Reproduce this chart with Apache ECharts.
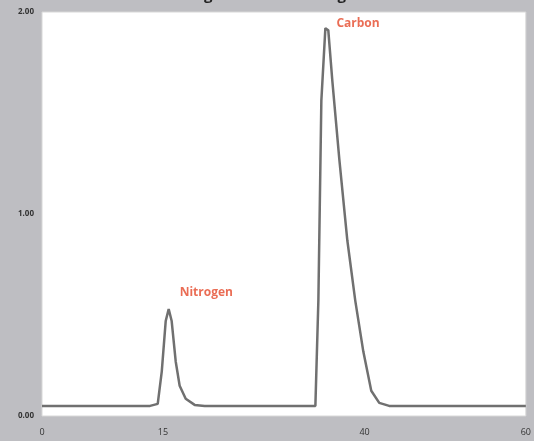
<!DOCTYPE html>
<html><head><meta charset="utf-8">
<script src="https://cdn.jsdelivr.net/npm/echarts@6/dist/echarts.min.js"></script>
<style>html,body{margin:0;padding:0;background:#bebec2;}#c{width:534px;height:441px;}</style>
</head><body><div id="c"></div>
<script>
// retention time (x) and detector signal (y)
const times = [0, 7.2, 13.4, 14.35, 14.85, 15.34, 15.71, 16.08, 16.58, 17.07, 17.82, 18.93, 20.17, 31.9, 33.9, 34.27, 34.64, 35.14, 35.5, 36.0, 36.87, 37.86, 38.85, 39.84, 40.83, 41.82, 43.05, 60];
const signal = [0.05, 0.05, 0.05, 0.06, 0.22, 0.47, 0.53, 0.47, 0.27, 0.15, 0.085, 0.055, 0.05, 0.05, 0.05, 0.57, 1.56, 1.92, 1.91, 1.66, 1.27, 0.87, 0.57, 0.32, 0.125, 0.065, 0.05, 0.05];
const peakNames = ['Nitrogen', 'Carbon'];
const peakIndex = [6, 17];
const xTicks = [0, 15, 40, 60];
const yTicks = ['0.00', '1.00', '2.00'];

const chart = echarts.init(document.getElementById('c'));
const lineData = times.map((t, i) => [t, signal[i]]);
const labelOffsets = [[4, -16], [4, -5]];
const peakData = peakIndex.map((i, k) => ({ name: peakNames[k], value: [times[i], signal[i]], label: { offset: labelOffsets[k] } }));
chart.setOption({
  animation: false,
  backgroundColor: '#bebec2',
  title: { text: 'Nitrogen and Carbon signal', left: 'center', top: -17,
    textStyle: { fontSize: 15, fontWeight: 'bold', color: '#222', fontFamily: 'Open Sans' } },
  grid: { left: 42, right: 7, top: 12, bottom: 25, show: true, backgroundColor: '#fff', borderColor: '#d8d8d8', borderWidth: 1 },
  xAxis: {
    type: 'value', min: 0, max: 60,
    axisLine: { show: false }, splitLine: { show: false },
    axisTick: { show: false },
    axisLabel: { customValues: xTicks, color: '#333', fontSize: 9, margin: 12, fontFamily: 'Open Sans' }
  },
  yAxis: {
    type: 'value', min: 0, max: 2, interval: 1,
    axisLine: { show: false }, splitLine: { show: false }, axisTick: { show: false },
    axisLabel: { color: '#333', fontSize: 8, fontWeight: 'bold', margin: 8, fontFamily: 'Open Sans',
      formatter: v => yTicks[Math.round(v)] }
  },
  series: [{
    type: 'line', data: lineData, symbol: 'none', smooth: false,
    lineStyle: { color: '#707070', width: 2.5 }
  }, {
    type: 'scatter', data: peakData, symbolSize: 0, silent: true,
    label: {
      show: true, formatter: p => p.name, position: 'right',
      color: '#e5492b', fontWeight: 'bold', fontSize: 12,
      fontFamily: 'Open Sans', backgroundColor: '#fff', padding: [1, 2]
    }
  }]
});
</script></body></html>
